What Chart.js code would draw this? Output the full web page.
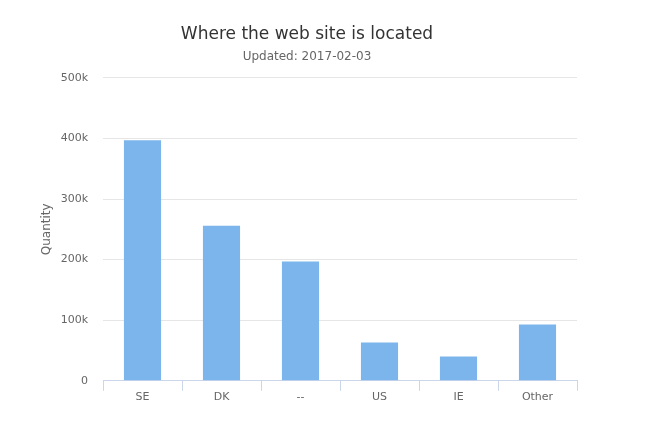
<!DOCTYPE html>
<html>
<head>
<meta charset="utf-8">
<script src="https://cdn.jsdelivr.net/npm/chart.js@4/dist/chart.umd.min.js"></script>
<style>
  html, body { margin: 0; padding: 0; background: #fff; }
  #wrap { width: 646px; height: 447px; position: relative; }
</style>
</head>
<body>
<div id="wrap"><canvas id="c" width="646" height="447"></canvas></div>
<script>
const categories = ['SE', 'DK', '--', 'US', 'IE', 'Other'];
const quantities = [397000, 256000, 197000, 63000, 40000, 93000];
const yTicks = [0, 100000, 200000, 300000, 400000, 500000];
const chartTitle = 'Where the web site is located';
const chartSubtitle = 'Updated: 2017-02-03';
const yAxisTitle = 'Quantity';

const FONT = '"DejaVu Sans", "Lucida Grande", Arial, sans-serif';

new Chart(document.getElementById('c'), {
  type: 'bar',
  data: {
    labels: categories,
    datasets: [{
      label: yAxisTitle,
      data: quantities,
      backgroundColor: '#7cb5ec',
      borderWidth: 0,
      barPercentage: 0.47,
      categoryPercentage: 1.0
    }]
  },
  options: {
    responsive: false,
    animation: false,
    devicePixelRatio: 1,
    layout: { padding: { left: 0, right: 32, top: 0, bottom: 43 } },
    plugins: {
      legend: { display: false },
      tooltip: { enabled: false },
      title: {
        display: true,
        text: chartTitle,
        color: '#333333',
        font: { family: FONT, size: 17, weight: 'normal' },
        padding: { top: 24, bottom: 5 }
      },
      subtitle: {
        display: true,
        text: chartSubtitle,
        color: '#666666',
        font: { family: FONT, size: 12, weight: 'normal' },
        padding: { top: 0, bottom: 14 }
      }
    },
    scales: {
      x: {
        offset: true,
        grid: {
          display: true,
          offset: true,
          drawOnChartArea: false,
          drawTicks: true,
          tickLength: 10,
          color: '#ccd6eb'
        },
        border: { display: true, color: '#ccd6eb' },
        ticks: {
          color: '#666666',
          font: { family: FONT, size: 11 },
          padding: 0,
          maxRotation: 0
        }
      },
      y: {
        min: 0,
        max: 500000,
        afterBuildTicks: (scale) => { scale.ticks = yTicks.map(v => ({ value: v })); },
        afterFit: (scale) => { scale.width = 103; },
        grid: { color: '#e6e6e6', drawTicks: false },
        border: { display: false },
        ticks: {
          color: '#666666',
          font: { family: FONT, size: 11 },
          padding: 15,
          callback: (v) => v === 0 ? '0' : (v / 1000) + 'k'
        },
        title: {
          display: true,
          text: yAxisTitle,
          color: '#666666',
          font: { family: FONT, size: 12 },
          padding: { top: 40, bottom: 10 }
        }
      },
      yR: {
        position: 'right',
        display: true,
        grid: { display: false },
        border: { display: false },
        ticks: { display: false },
        afterFit: (scale) => { scale.width = 37; }
      }
    }
  }
});
</script>
</body>
</html>
